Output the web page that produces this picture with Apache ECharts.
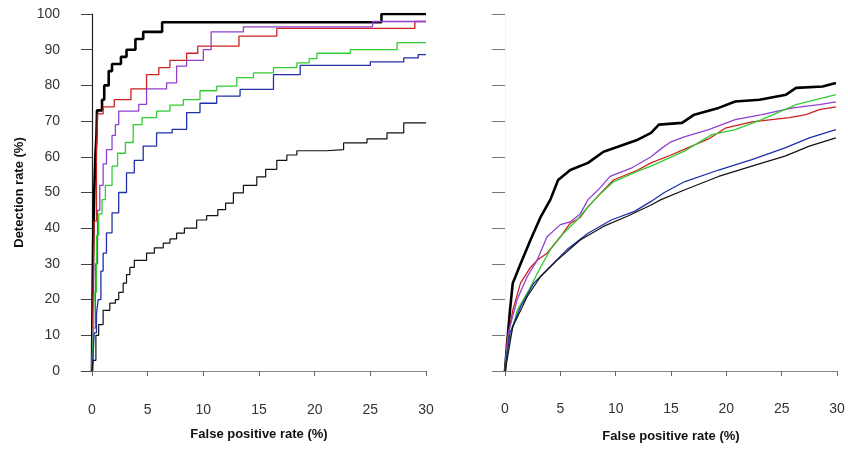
<!DOCTYPE html>
<html>
<head>
    <meta charset="utf-8">
    <title>ROC curves</title>
    <script src="https://cdn.jsdelivr.net/npm/echarts@6/dist/echarts.min.js"></script>
    <style>
        html, body { margin: 0; padding: 0; background: #fff; }
    </style>
</head>
<body>
    <div id="main" style="width: 848px; height: 451px;"></div>
<script type="text/javascript">
    // tick labels
    var xTicks = [0, 5, 10, 15, 20, 25, 30];
    var yTicks = [0, 10, 20, 30, 40, 50, 60, 70, 80, 90, 100];

    // left panel: step ROC curves [false positive %, detection %]
    var leftBlackThick = [[0,0],[0.05,20],[0.1,35],[0.2,50],[0.3,60],[0.4,66],[0.45,73],[0.9,76],[1.1,80],[1.5,84],[1.8,86],[2.6,88],[3.1,90],[3.9,93],[4.6,95],[6.3,97.7],[26,100],[30,100]];
    var leftRed = [[0,0],[0.1,20],[0.2,42],[0.4,60],[0.5,72],[1.0,74],[2.0,76],[3.5,79],[4.9,83],[6.0,85],[7.0,87],[8.5,89],[9.5,91],[13.2,93.8],[16.6,96],[29,97.9],[30,97.9]];
    var leftPurple = [[0,0],[0.1,12],[0.3,30],[0.5,45],[0.7,52],[1.0,58],[1.3,62],[1.8,66],[2.1,69],[2.4,72.8],[4.2,74.7],[4.9,79],[6.7,80.7],[7.6,85.4],[8.5,87],[10,90],[10.7,95],[13.6,96.4],[25.2,97.9],[30,97.9]];
    var leftGreen = [[0,0],[0.1,10],[0.2,22],[0.4,38],[0.6,44],[0.9,48],[1.2,52],[1.8,57.4],[2.3,61],[3.0,64],[3.7,69],[4.5,71],[5.8,72.8],[7,74.5],[8.2,76],[9.7,78.5],[11.2,79.8],[13,82.2],[14.5,83.5],[16.3,85],[18.4,86.3],[19.5,87.5],[20.2,89],[23.2,90],[27.4,92],[30,92]];
    var leftBlue = [[0,0],[0.1,5],[0.2,10.7],[0.4,16],[0.55,20],[0.8,28],[1.0,33],[1.3,38.7],[1.8,44.3],[2.4,50],[3.1,55.5],[3.8,59],[4.6,63],[5.8,66.7],[7.2,67.7],[8.5,72.4],[9.7,75],[11.2,77],[13.3,78.9],[16.3,83],[18.7,85.6],[25,86.6],[28,87.7],[29.3,88.6],[30,88.6]];
    var leftBlackThin = [[0,0],[0.1,3],[0.35,10],[0.6,13],[1.0,17],[1.6,19],[2.1,20],[2.4,22],[2.8,24.6],[3.1,27],[3.4,29],[3.8,31],[4.9,33],[5.6,34.5],[6.4,35.8],[7.0,37],[7.6,38.6],[8.3,40],[9.4,42.3],[10.3,43.5],[11.3,45.2],[12.0,47],[12.7,49.9],[13.6,52],[14.8,54.4],[15.6,56.5],[16.6,59],[17.5,60.5],[18.4,61.7],[21.1,62],[22.6,63.9],[24.7,65],[26.5,66.7],[28,69.5],[30,69.5]];

    // right panel curves
    var rightBlackThick = [[0,0],[0.2,8],[0.45,17],[0.7,24.6],[1.4,30],[2.3,36.7],[3.2,43],[4.1,48],[4.8,53.5],[5.9,56.3],[7.5,58.3],[8.9,61.4],[10.2,62.8],[12,64.8],[13.2,66.7],[13.9,69],[16,69.5],[17.1,71.8],[19.3,73.7],[20.8,75.5],[23,76],[25.4,77.4],[26.3,79.3],[28.7,79.7],[29.9,80.7]];
    var rightRed = [[0,0],[0.2,8.7],[0.7,17],[1.4,24.6],[2.3,29],[2.9,31],[3.8,33],[5,37.6],[5.9,41.4],[6.8,43],[7.5,46],[8.4,49],[9.8,53.5],[12,56.3],[13.2,58.3],[15,60.5],[16.5,62.5],[18.4,65],[19.9,68],[22.3,69.8],[25.7,71],[27.2,71.8],[28.4,73.2],[29.9,74]];
    var rightPurple = [[0,0],[0.1,4],[0.3,10.7],[1.1,20],[2,26.4],[2.9,31],[3.8,37.6],[5,41],[5.9,41.8],[6.8,44],[7.5,48],[8.5,51],[9.5,54.5],[11.4,56.8],[13.2,60],[14.2,62.5],[15,64.2],[16.2,65.6],[18.4,67.6],[20.8,70.4],[23.2,71.8],[26,73.7],[28.4,74.6],[29.9,75.4]];
    var rightGreen = [[0,0],[0.2,6],[1.1,17],[2,21.8],[3.2,29],[4.1,34],[5.3,38.6],[6.5,42.3],[7.5,46],[8.4,49],[9.8,53],[12,56],[13.2,57.4],[16.2,61.6],[18.7,66.2],[20.8,67.6],[23.2,70.4],[26.3,74.6],[29.9,77.4]];
    var rightBlue = [[0,0],[0.1,3],[0.45,10.7],[1.4,18],[2.6,24.6],[4.1,29.3],[5.6,34],[7.5,38.6],[9.6,42.3],[11.7,44.7],[13.2,47.5],[14.4,50],[16.2,53],[19.3,56.3],[22.3,59.2],[25.3,62.5],[27.5,65.3],[29.9,67.6]];
    var rightBlackThin = [[0,0],[0.1,1.5],[0.7,12.4],[2,20.8],[3.2,26.4],[4.7,31],[6.8,36.7],[8.9,40.5],[11.1,43.4],[13.2,46.5],[14.1,48],[16.2,50.7],[19.3,54.5],[22.3,57.4],[25.3,60.2],[27.5,63],[29.9,65.3]];

    var curveStyles = [
        {color: '#000000', width: 2.6},
        {color: '#cc2020', width: 1.3},
        {color: '#9040d0', width: 1.3},
        {color: '#33cc33', width: 1.3},
        {color: '#2030a8', width: 1.3},
        {color: '#111111', width: 1.2}
    ];
    var leftCurves = [leftBlackThick, leftRed, leftPurple, leftGreen, leftBlue, leftBlackThin];
    var rightCurves = [rightBlackThick, rightRed, rightPurple, rightGreen, rightBlue, rightBlackThin];

    var myChart = echarts.init(document.getElementById('main'));
    var font = 'Liberation Sans, Arial, sans-serif';

    function xAxisFor(idx, offset, gap) {
        return {
            type: 'value', gridIndex: idx, min: 0, max: 30, interval: 5,
            offset: offset,
            name: 'False positive rate (%)', nameLocation: 'middle', nameGap: gap,
            nameTextStyle: {fontFamily: font, fontWeight: 'bold', fontSize: 13, color: '#111'},
            axisLine: {lineStyle: {color: '#888', width: 1}},
            axisTick: {length: 5, lineStyle: {color: '#666'}},
            axisLabel: {margin: 17, fontFamily: font, fontSize: 14, color: '#333',
                formatter: function (v) { return xTicks.indexOf(v) >= 0 ? String(v) : ''; }},
            splitLine: {show: false}
        };
    }

    var series = [];
    leftCurves.forEach(function (d, i) {
        series.push({type: 'line', xAxisIndex: 0, yAxisIndex: 0, step: 'end', symbol: 'none',
            data: d, lineStyle: {color: curveStyles[i].color, width: curveStyles[i].width}});
    });
    rightCurves.forEach(function (d, i) {
        series.push({type: 'line', xAxisIndex: 1, yAxisIndex: 1, symbol: 'none',
            data: d, lineStyle: {color: curveStyles[i].color, width: curveStyles[i].width}});
    });

    var option = {
        animation: false,
        backgroundColor: '#ffffff',
        grid: [
            {left: 92, right: 422, top: 14, bottom: 80},
            {left: 505, right: 11, top: 14, bottom: 80}
        ],
        xAxis: [xAxisFor(0, 15, 42), xAxisFor(1, 14, 45)],
        yAxis: [{
            type: 'value', gridIndex: 0, min: 0, max: 100, interval: 10, offset: 14,
            name: 'Detection rate (%)', nameLocation: 'middle', nameGap: 52,
            nameTextStyle: {fontFamily: font, fontWeight: 'bold', fontSize: 13, color: '#111'},
            axisLine: {show: true, lineStyle: {color: '#222', width: 1.2}},
            axisTick: {show: true, length: 11, lineStyle: {color: '#444'}},
            axisLabel: {margin: 18, fontFamily: font, fontSize: 14, color: '#333',
                formatter: function (v) { return yTicks.indexOf(v) >= 0 ? String(v) : ''; }},
            splitLine: {show: false}
        }, {
            type: 'value', gridIndex: 1, min: 0, max: 100, interval: 10, offset: 14,
            axisLine: {show: true, lineStyle: {color: '#f2f2f2', width: 1}},
            axisTick: {show: true, length: 13, lineStyle: {color: '#777'}},
            axisLabel: {show: false},
            splitLine: {show: false}
        }],
        series: series
    };
    myChart.setOption(option);
</script>
</body>
</html>
